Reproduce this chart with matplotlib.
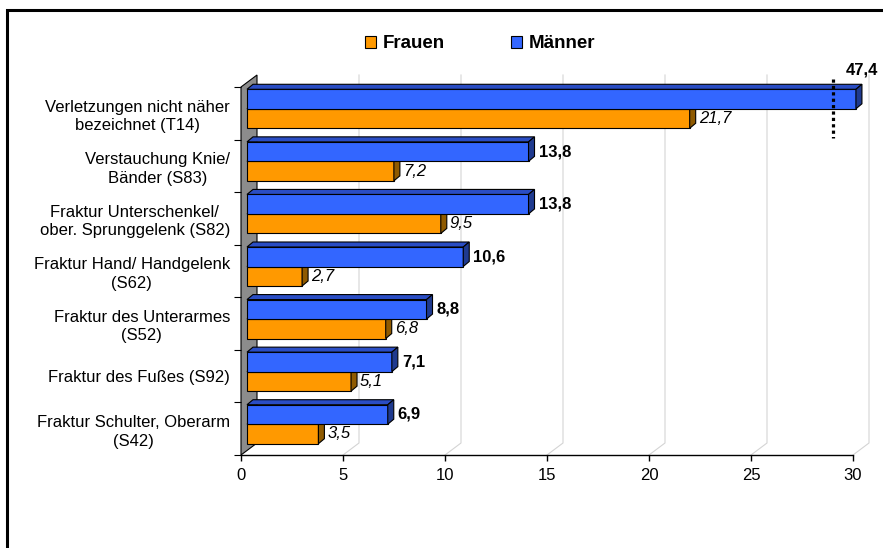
import matplotlib
matplotlib.use("Agg")
import matplotlib.pyplot as plt
from matplotlib.patches import Polygon, Patch, Rectangle

plt.rcParams['font.family'] = ['Liberation Sans', 'DejaVu Sans']

# Daten (von oben nach unten wie im Original)
categories = ["Verletzungen nicht näher\nbezeichnet (T14)",
              "Verstauchung Knie/\nBänder (S83)",
              "Fraktur Unterschenkel/\nober. Sprunggelenk (S82)",
              "Fraktur Hand/ Handgelenk\n(S62)",
              "Fraktur des Unterarmes\n(S52)",
              "Fraktur des Fußes (S92)",
              "Fraktur Schulter, Oberarm\n(S42)"]
frauen = [21.7, 7.2, 9.5, 2.7, 6.8, 5.1, 3.5]
maenner = [47.4, 13.8, 13.8, 10.6, 8.8, 7.1, 6.9]
xticks = [0, 5, 10, 15, 20, 25, 30]

# Farben
c_f, c_f_side = '#FF9900', '#8F5A00'
c_m, c_m_side, c_m_top = '#3366FF', '#1F3A8F', '#2A4DC4'
axis_cap = 29.85   # sichtbare Länge des abgeschnittenen Balkens

W, H = 883, 548
fig = plt.figure(figsize=(W / 100, H / 100), dpi=100)
# Vorderebene: x 0..30 -> px 241..853, y 0..7 -> px 455..87
ax = fig.add_axes([241 / W, 1 - 455 / H, (853 - 241) / W, (455 - 87) / H])
ax.set_xlim(0, 30)
ax.set_ylim(0, 7)
PX = 30 / (853 - 241)
PY = 7 / (455 - 87)

# Tiefenversatz
wall_dx, wall_dy = 16 * PX, 12 * PY
dxf, dyf = 6 * PX, 4.5 * PY
ddx, ddy = 6 * PX, 5 * PY
h = 19.5 * PY

# Seitenwand
ax.add_patch(Polygon([(0, 0), (0, 7), (wall_dx, 7 + wall_dy), (wall_dx, wall_dy)],
                     closed=True, facecolor='#8C8C8C', edgecolor='black', lw=0.8,
                     zorder=1, clip_on=False))
# Gitterlinien
for t in xticks[1:]:
    ax.plot([t, t + wall_dx, t + wall_dx], [0, wall_dy, 7 + wall_dy],
            color='#D4D4D4', lw=0.8, zorder=0.5, clip_on=False)


def bar3d(y0, v, face, side, top):
    x0, x1 = dxf, dxf + v
    y0 = y0 + dyf
    y1 = y0 + h
    ax.barh(y0 + h / 2, v, height=h, left=x0, color=face, edgecolor='black',
            lw=0.8, zorder=3, clip_on=False)
    ax.add_patch(Polygon([(x0, y1), (x1, y1), (x1 + ddx, y1 + ddy), (x0 + ddx, y1 + ddy)],
                         closed=True, facecolor=top, edgecolor='black', lw=0.8,
                         zorder=3, clip_on=False))
    ax.add_patch(Polygon([(x1, y0), (x1, y1), (x1 + ddx, y1 + ddy), (x1 + ddx, y0 + ddy)],
                         closed=True, facecolor=side, edgecolor='black', lw=0.8,
                         zorder=3, clip_on=False))
    return x1 + ddx, y0 + h / 2


n = len(categories)
for k in range(n):
    c = n - 1 - k + 0.5
    vf, vm = frauen[k], maenner[k]
    xe, yc = bar3d(c - h, min(vf, axis_cap), c_f, c_f_side, c_f)
    ax.text(xe + 3 * PX, yc, f"{vf:.1f}".replace('.', ','), ha='left', va='center',
            fontsize=12, style='italic', zorder=5)
    xe, yc = bar3d(c, min(vm, axis_cap), c_m, c_m_side, c_m_top)
    label = f"{vm:.1f}".replace('.', ',')
    if vm > axis_cap:
        ax.text(xe, yc + h / 2 + ddy + 14 * PY, label, ha='center', va='center',
                fontsize=12, fontweight='bold', zorder=5, clip_on=False)
        xb = 29.0
        ax.plot([xb, xb], [c + h + dyf + ddy + 5 * PY, c - h + dyf - 10 * PY],
                color='black', lw=2.3, linestyle=(0, (1, 1)), zorder=6, clip_on=False)
    else:
        ax.text(xe + 4 * PX, yc, label, ha='left', va='center',
                fontsize=12, fontweight='bold', zorder=5)

# Achsen
for s in ['top', 'right']:
    ax.spines[s].set_visible(False)
ax.spines['left'].set_visible(False)
ax.spines['bottom'].set_linewidth(1.0)
ax.set_xticks(xticks)
ax.set_xticklabels([str(t) for t in xticks], fontsize=12)
ax.tick_params(axis='x', direction='out', length=4, width=1, pad=5)
ax.set_yticks(range(n + 1))
ax.set_yticklabels([])
ax.tick_params(axis='y', which='major', direction='out', length=5, width=0.8)
ax.set_yticks([n - 1 - k + 0.5 for k in range(n)], minor=True)
ax.set_yticklabels(categories, minor=True, fontsize=12, multialignment='center',
                   linespacing=1.28)
ax.tick_params(axis='y', which='minor', length=0, pad=8)
ax.patch.set_alpha(0)

# Legende
fig.legend(handles=[Patch(facecolor=c_f, edgecolor='black', lw=0.8),
                    Patch(facecolor=c_m, edgecolor='black', lw=0.8)],
           labels=['Frauen', 'Männer'], loc='center', bbox_to_anchor=(480 / W, 1 - 44 / H),
           ncol=2, frameon=False, prop={'weight': 'bold', 'size': 13.5},
           handlelength=0.6, handleheight=0.6, handletextpad=0.37, columnspacing=3.5)

# Rahmen
fig.add_artist(Rectangle((7 / W, -0.5), 2, 1.5 - 10 / H, transform=fig.transFigure,
                         fill=False, edgecolor='black', lw=2.2, clip_on=False))

fig.savefig('out.png', dpi=100)
